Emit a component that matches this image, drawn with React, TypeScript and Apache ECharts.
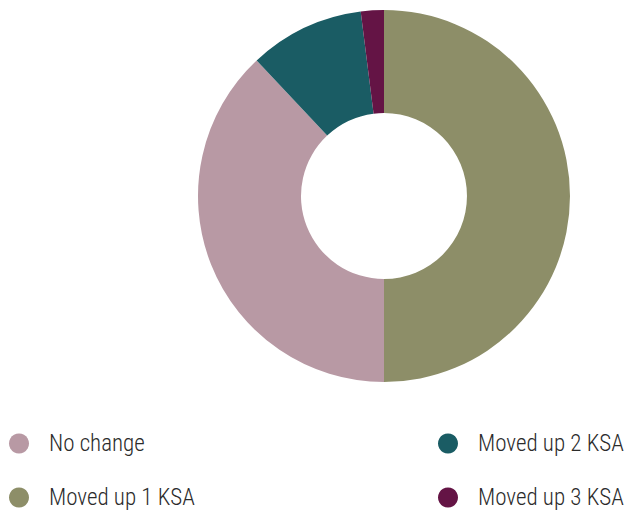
import React, { useEffect, useRef } from "react";
import * as echarts from "echarts";

const categories = ["Moved up 1 KSA", "No change", "Moved up 2 KSA", "Moved up 3 KSA"];
const values = [50, 38, 10, 2];
const colors = ["#8d8e68", "#b899a4", "#1a5c64", "#641445"];
const legendItems = ["No change", "Moved up 2 KSA", "Moved up 1 KSA", "Moved up 3 KSA"];

const FONT = "'Liberation Sans Narrow', 'Roboto Condensed', 'Arial Narrow', sans-serif";

export default function App() {
  const ref = useRef<HTMLDivElement>(null);
  useEffect(() => {
    document.body.style.margin = "0";
    const chart = echarts.init(ref.current!, undefined, { renderer: "svg" });
    const legendBase = {
      orient: "horizontal" as const,
      icon: "circle",
      itemWidth: 20,
      itemHeight: 20,
      padding: 0,
      textStyle: {
        fontFamily: FONT,
        fontSize: 23,
        fontWeight: 300,
        color: "#2b2b2b",
        padding: [0, 0, 0, 15],
      },
    };
    const lefts = [9, 438, 9, 438];
    const tops = [432, 432, 486, 486];
    chart.setOption({
      animation: false,
      legend: legendItems.map((name, i) => ({
        ...legendBase,
        left: lefts[i],
        top: tops[i],
        data: [name],
      })),
      series: [
        {
          type: "pie",
          center: [384, 196],
          radius: [83, 186],
          startAngle: 90,
          clockwise: true,
          label: { show: false },
          labelLine: { show: false },
          emphasis: { disabled: true },
          data: categories.map((name, i) => ({
            name,
            value: values[i],
            itemStyle: { color: colors[i] },
          })),
        },
      ],
    });
    return () => chart.dispose();
  }, []);
  return <div ref={ref} style={{ width: 629, height: 516 }} />;
}
